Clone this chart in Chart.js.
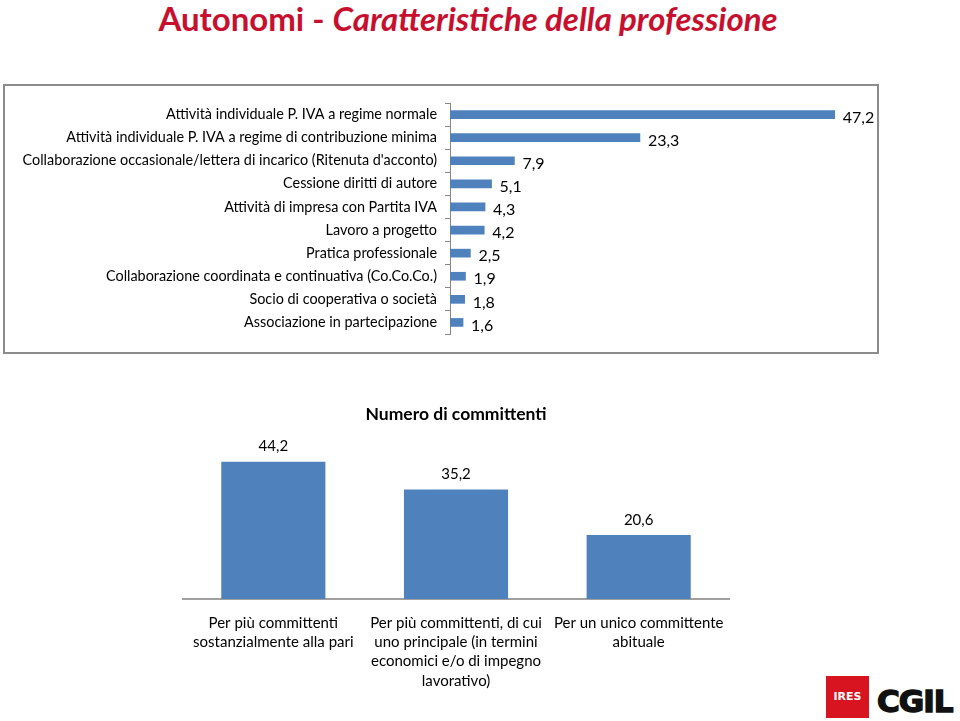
<!DOCTYPE html>
<html>
<head>
<meta charset="utf-8">
<script src="https://cdn.jsdelivr.net/npm/chart.js@4.4.0/dist/chart.umd.min.js"></script>
<style>
    body { margin: 0; width: 960px; height: 721px; background: #fff; position: relative; overflow: hidden; font-family: Lato, sans-serif; }
    #title { position: absolute; left: 0; top: 0; width: 936px; text-align: center; font: bold 33px Lato, sans-serif; color: #c8102e; line-height: 36px; }
    #title i { font-style: italic; }
    #box { position: absolute; left: 3px; top: 84px; width: 872px; height: 266px; border: 2px solid #8c8c8c; }
    #formeWrap { position: absolute; left: 4px; top: 85px; width: 872px; height: 266px; }
    #committWrap { position: absolute; left: 182px; top: 400px; width: 548px; height: 300px; }
    #ires { position: absolute; left: 826px; top: 676px; width: 43px; height: 42px; background: #d7141f; color: #fff; font: bold 11px "DejaVu Sans", sans-serif; line-height: 42px; text-align: center; }
    #cgil { position: absolute; left: 877px; top: 683px; font: bold 31px "DejaVu Sans", sans-serif; color: #111; letter-spacing: -1px; -webkit-text-stroke: 1.5px #111; }
</style>
</head>
<body>
<div id="title">Autonomi - <i>Caratteristiche della professione</i></div>
<div id="box"></div>
<div id="formeWrap"><canvas id="formeChart"></canvas></div>
<div id="committWrap"><canvas id="committChart"></canvas></div>
<div id="ires">IRES</div>
<div id="cgil">CGIL</div>

<script>
// forme contrattuali (%)
const formeLabels = [
    'Attività individuale P. IVA a regime normale',
    'Attività individuale P. IVA a regime di contribuzione minima',
    "Collaborazione occasionale/lettera di incarico (Ritenuta d'acconto)",
    'Cessione diritti di autore',
    'Attività di impresa con Partita IVA',
    'Lavoro a progetto',
    'Pratica professionale',
    'Collaborazione coordinata e continuativa (Co.Co.Co.)',
    'Socio di cooperativa o società',
    'Associazione in partecipazione'
];
const formeValues = [47.2, 23.3, 7.9, 5.1, 4.3, 4.2, 2.5, 1.9, 1.8, 1.6];

// numero di committenti (%)
const committLabels = [
    ['Per più committenti', 'sostanzialmente alla pari'],
    ['Per più committenti, di cui', 'uno principale (in termini', 'economici e/o di impegno', 'lavorativo)'],
    ['Per un unico committente', 'abituale']
];
const committValues = [44.2, 35.2, 20.6];

const BLUE = '#4f81bd';
const FONT = 'Lato, sans-serif';

Chart.defaults.animation = false;
Chart.defaults.font.family = FONT;
Chart.defaults.color = '#000';

function fmt(v) {
    return v.toFixed(1).replace('.', ',');
}

// etichette dei valori accanto alle barre
function valueLabels(horizontal) {
    return {
        id: 'valueLabels',
        afterDatasetsDraw(chart) {
            const ctx = chart.ctx;
            const data = chart.data.datasets[0].data;
            ctx.save();
            ctx.fillStyle = '#000';
            ctx.textBaseline = 'middle';
            chart.getDatasetMeta(0).data.forEach((bar, i) => {
                if (horizontal) {
                    ctx.font = '16px ' + FONT;
                    ctx.textAlign = 'left';
                    ctx.fillText(fmt(data[i]), bar.x + 8, bar.y + 3);
                } else {
                    ctx.font = '15px ' + FONT;
                    ctx.textAlign = 'center';
                    ctx.fillText(fmt(data[i]), bar.x, bar.y - 15);
                }
            });
            ctx.restore();
        }
    };
}

new Chart(document.getElementById('formeChart'), {
    type: 'bar',
    data: {
        labels: formeLabels,
        datasets: [{ data: formeValues, backgroundColor: BLUE, barThickness: 8 }]
    },
    options: {
        indexAxis: 'y',
        responsive: true,
        maintainAspectRatio: false,
        layout: { padding: { top: 18, bottom: 17, right: 16 } },
        plugins: { legend: { display: false }, tooltip: { enabled: false } },
        scales: {
            x: { display: false, min: 0, max: 50.3 },
            y: {
                afterFit: (scale) => { scale.width = 446; },
                grid: { offset: true, drawOnChartArea: false, tickLength: 5, color: '#888' },
                border: { color: '#888' },
                ticks: { font: { size: 14.4 }, padding: 8, autoSkip: false }
            }
        }
    },
    plugins: [valueLabels(true)]
});

new Chart(document.getElementById('committChart'), {
    type: 'bar',
    data: {
        labels: committLabels,
        datasets: [{ data: committValues, backgroundColor: BLUE, barPercentage: 0.57, categoryPercentage: 1 }]
    },
    options: {
        responsive: true,
        maintainAspectRatio: false,
        layout: { padding: 0 },
        plugins: {
            legend: { display: false },
            tooltip: { enabled: false },
            title: {
                display: true,
                text: 'Numero di committenti',
                font: { size: 17.5, weight: 'bold' },
                color: '#000',
                padding: { top: 4, bottom: 18.6 }
            }
        },
        scales: {
            y: { display: false, min: 0, max: 50 },
            x: {
                afterFit: (scale) => {
                    scale.height = 101;
                    scale.paddingLeft = 0;
                    scale.paddingRight = 0;
                },
                grid: { display: false, drawTicks: false },
                border: { color: '#a0a0a0', width: 2 },
                ticks: { font: { size: 15, lineHeight: 1.27 }, padding: 15, maxRotation: 0, autoSkip: false }
            }
        }
    },
    plugins: [valueLabels(false)]
});
</script>
</body>
</html>
